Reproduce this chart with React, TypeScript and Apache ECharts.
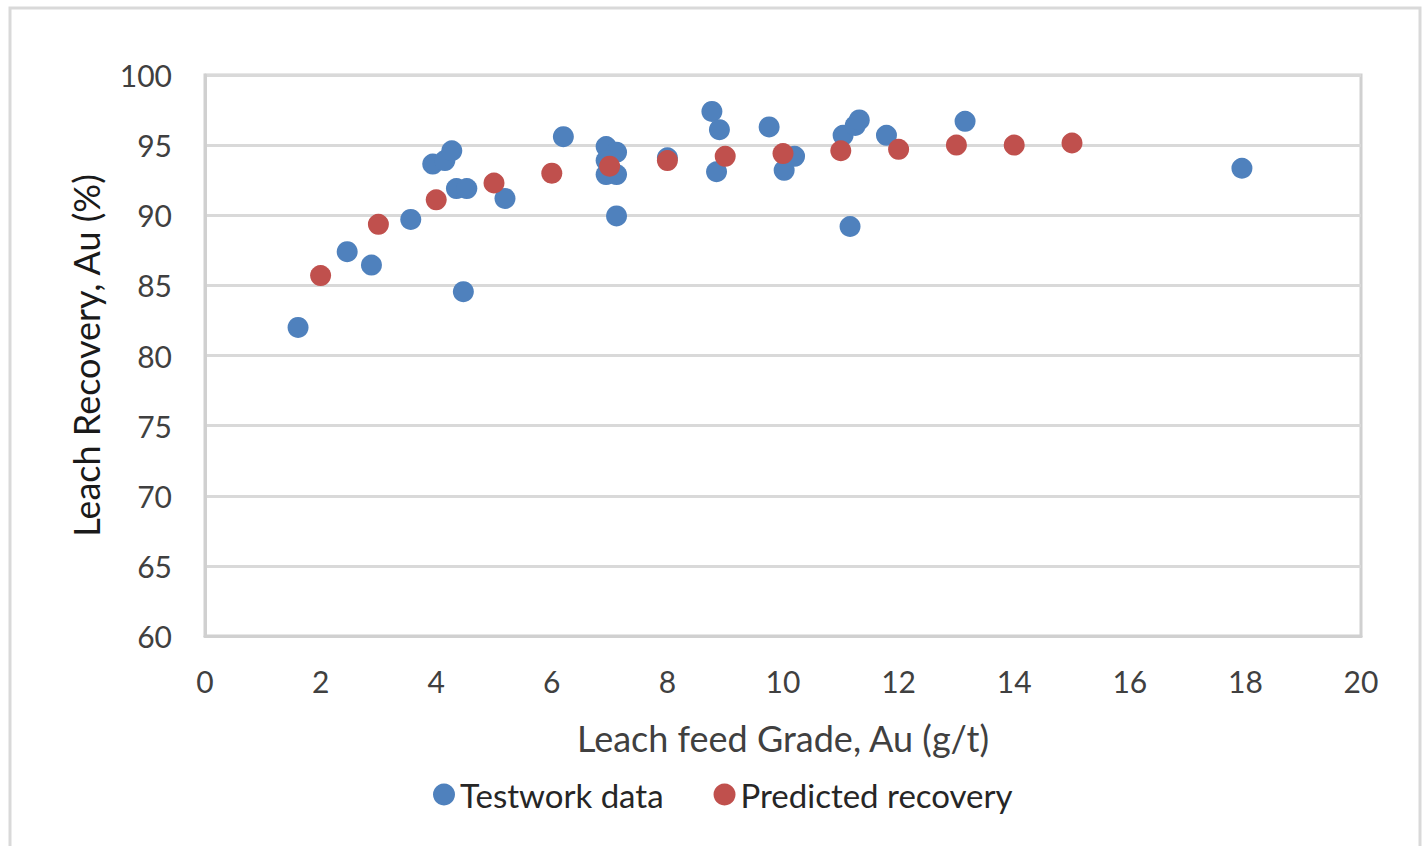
import React, { useEffect, useRef } from "react";
import * as echarts from "echarts";

const testworkX = [1.61, 2.46, 2.88, 3.56, 3.94, 4.15, 4.27, 4.35, 4.53, 4.47, 5.19, 6.2, 6.94, 7.12, 6.94, 6.94, 7.12, 7.12, 8.0, 8.77, 8.9, 8.85, 9.76, 10.2, 10.02, 11.04, 11.25, 11.32, 11.16, 11.79, 13.15, 17.94];
const testworkY = [82.0, 87.4, 86.45, 89.7, 93.65, 93.9, 94.6, 91.9, 91.9, 84.55, 91.2, 95.6, 94.9, 94.5, 93.9, 92.9, 92.9, 89.95, 94.1, 97.4, 96.1, 93.1, 96.3, 94.2, 93.2, 95.7, 96.4, 96.8, 89.2, 95.7, 96.7, 93.35];
const predictedX = [2, 3, 4, 5, 6, 7, 8, 9, 10, 11, 12, 13, 14, 15];
const predictedY = [85.7, 89.35, 91.1, 92.3, 93.0, 93.5, 93.9, 94.2, 94.4, 94.6, 94.7, 95.0, 95.0, 95.15];

const seriesNames = ["Testwork data", "Predicted recovery"];
const xTitle = "Leach feed Grade, Au (g/t)";
const yTitle = "Leach Recovery, Au (%)";

const FONT = "Lato, 'Liberation Sans', sans-serif";

export default function App() {
  const ref = useRef<HTMLDivElement>(null);
  useEffect(() => {
    if (!ref.current) return;
    const chart = echarts.init(ref.current, null, { renderer: "svg" });
    const tw = testworkX.map((x, i) => [x, testworkY[i]]);
    const pr = predictedX.map((x, i) => [x, predictedY[i]]);
    chart.setOption({
      animation: false,
      backgroundColor: "#ffffff",
      textStyle: { fontFamily: FONT },
      graphic: [
        {
          type: "rect",
          shape: { x: 10, y: 8, width: 1410, height: 860 },
          style: { fill: "none", stroke: "#d9d9d9", lineWidth: 3 },
          silent: true,
        },
      ],
      grid: {
        left: 205,
        top: 75,
        width: 1156,
        height: 561,
        show: true,
        borderColor: "#d0d0d0",
        borderWidth: 3,
      },
      legend: {
        top: 773,
        left: 428,
        itemWidth: 22,
        itemHeight: 22,
        itemGap: 50,
        icon: "circle",
        textStyle: { fontFamily: FONT, fontSize: 33, color: "#262626", padding: [0, 0, 0, 0] },
        data: seriesNames,
      },
      xAxis: {
        type: "value",
        min: 0,
        max: 20,
        interval: 2,
        name: xTitle,
        nameLocation: "middle",
        nameGap: 84,
        nameTextStyle: { fontFamily: FONT, fontSize: 36, color: "#404040" },
        axisLine: { show: true, lineStyle: { color: "#d0d0d0", width: 3 } },
        axisTick: { show: false },
        axisLabel: { fontFamily: FONT, fontSize: 30, color: "#404040", margin: 30 },
        splitLine: { show: false },
      },
      yAxis: {
        type: "value",
        min: 60,
        max: 100,
        interval: 5,
        name: yTitle,
        nameLocation: "middle",
        nameGap: 101,
        nameTextStyle: { fontFamily: FONT, fontSize: 36, color: "#1a1a1a" },
        axisLine: { show: true, lineStyle: { color: "#d0d0d0", width: 3 } },
        axisTick: { show: false },
        axisLabel: { fontFamily: FONT, fontSize: 30, color: "#404040", margin: 33 },
        splitLine: { show: true, lineStyle: { color: "#d9d9d9", width: 3 } },
      },
      series: [
        {
          name: seriesNames[0],
          type: "scatter",
          data: tw,
          symbol: "circle",
          symbolSize: 21,
          itemStyle: { color: "#4f81bd", opacity: 1 },
        },
        {
          name: seriesNames[1],
          type: "scatter",
          data: pr,
          symbol: "circle",
          symbolSize: 21,
          itemStyle: { color: "#c0504d", opacity: 1 },
        },
      ],
    });
    return () => chart.dispose();
  }, []);
  return (
    <div
      ref={ref}
      style={{ position: "fixed", left: 0, top: 0, width: 1428, height: 846 }}
    />
  );
}
